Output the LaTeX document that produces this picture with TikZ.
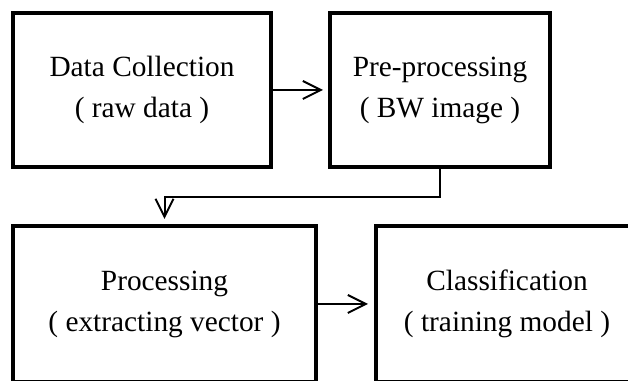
\documentclass[tikz,border=0pt]{standalone}
\usepackage{fontspec}
\setmainfont{Liberation Serif}
\usetikzlibrary{arrows.meta}

\tikzset{
	stagebox/.style={draw, line width=3pt, align=center, inner sep=0pt, font=\fontsize{22}{30.75}\selectfont},
	flowarrow/.style={line width=1.5pt, -{Straight Barb[length=13.5pt, width=13.5pt]}},
}

\begin{document}
\begin{tikzpicture}[x=0.75pt, y=0.75pt]
			\useasboundingbox (0, 0) rectangle (628, 381);
			% Stages:
			\node[stagebox, minimum width=193.5pt, minimum height=115.5pt](collect) at (142, 291){Data Collection\\( raw data )};
			\node[stagebox, minimum width=165pt, minimum height=115.5pt](preproc) at (440, 291){Pre-processing\\( BW image )};
			\node[stagebox, minimum width=227.25pt, minimum height=117pt](proc) at (164.5, 77){Processing\\( extracting vector )};
			\node[stagebox, minimum width=196.5pt, minimum height=117pt](classify) at (507, 77){Classification\\( training model )};
			% Arrows:
			\draw[flowarrow, shorten >=3.75pt] (collect.east) -- (preproc.west);
			\draw[flowarrow, shorten >=3.75pt] (preproc.south) -- ++(0, -28) -| (proc.north);
			\draw[flowarrow, shorten >=4.5pt] (proc.east) -- (classify.west);
		\end{tikzpicture}
\end{document}
